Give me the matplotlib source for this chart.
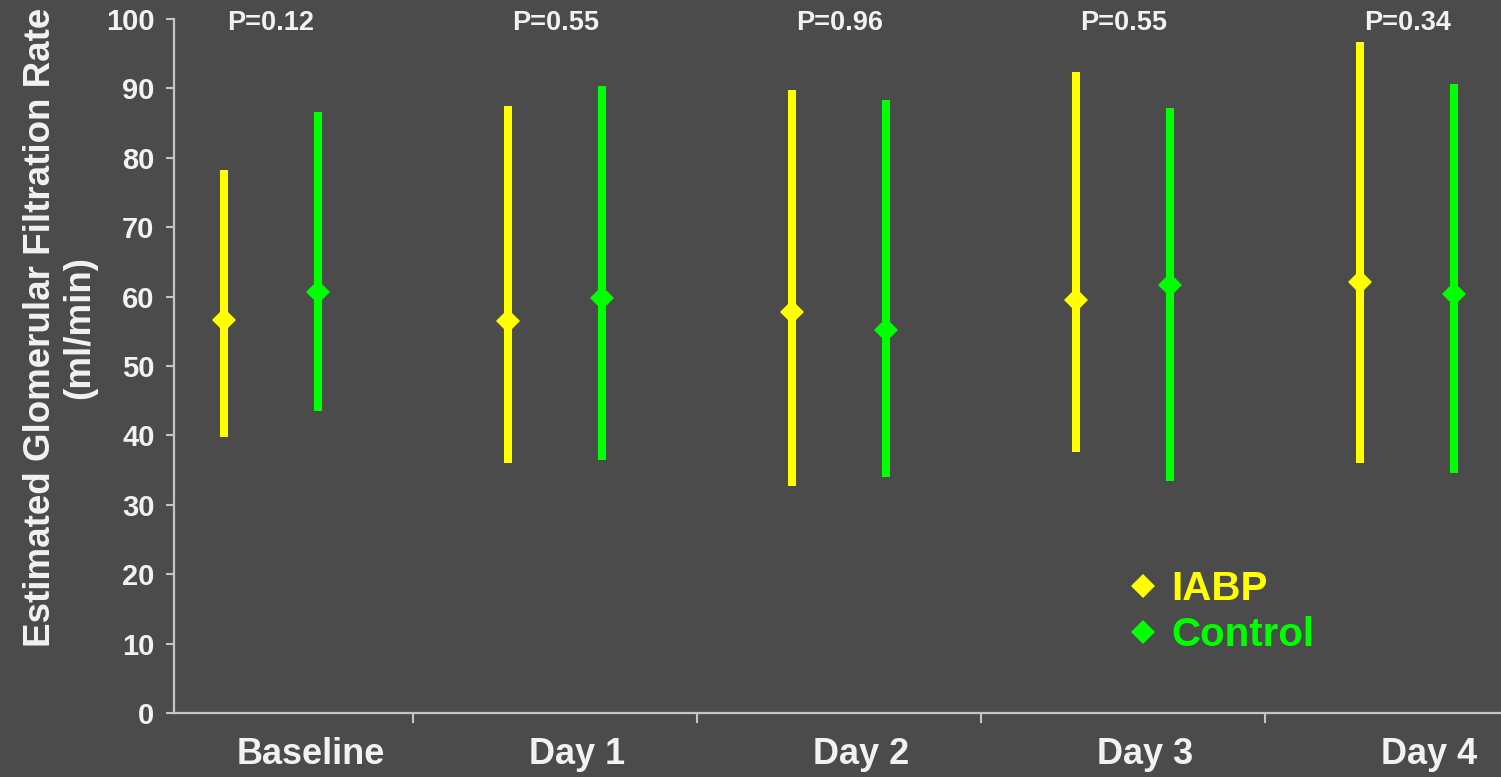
import matplotlib.pyplot as plt
import matplotlib.transforms as mtransforms
import numpy as np

plt.rcParams['font.family'] = ['Liberation Sans', 'DejaVu Sans']
plt.rcParams['font.weight'] = 'bold'

days = ['Baseline', 'Day 1', 'Day 2', 'Day 3', 'Day 4']
p_values = ['P=0.12', 'P=0.55', 'P=0.96', 'P=0.55', 'P=0.34']

iabp_mean = [56.6, 56.5, 57.8, 59.5, 62.1]
iabp_low = [39.8, 36.0, 32.7, 37.6, 36.0]
iabp_high = [78.2, 87.5, 89.8, 92.4, 96.7]

control_mean = [60.7, 59.8, 55.2, 61.7, 60.4]
control_low = [43.5, 36.5, 34.0, 33.4, 34.6]
control_high = [86.6, 90.3, 88.3, 87.2, 90.6]

bg = '#4b4b4b'
fg = '#f2f2f2'
axis_col = '#c4c4c4'
yellow = '#ffff00'
green = '#00ff00'

fig = plt.figure(figsize=(15.01, 7.77), dpi=100, facecolor=bg)
ax = fig.add_axes([0.1159, 0.0824, 0.8841, 0.8931], facecolor=bg)

x = np.arange(len(days))
off = 0.165

ax.vlines(x - off, iabp_low, iabp_high, color=yellow, lw=5.8)
ax.vlines(x + off, control_low, control_high, color=green, lw=5.8)
ax.plot(x - off, iabp_mean, 'D', color=yellow, ms=12.5, mew=0, label='IABP')
ax.plot(x + off, control_mean, 'D', color=green, ms=12.5, mew=0, label='Control')

for xi, p in zip(x, p_values):
    ax.text(xi, 99.5, p, color=fg, fontsize=19.5, fontweight='bold',
            ha='center', va='center')

ax.set_xlim(-0.342, 4.33)
ax.set_ylim(0, 100)
ax.set_yticks(np.arange(0, 101, 10))

# labels sit at the category centres, tick marks at the boundaries
ax.set_xticks(x)
ax.set_xticklabels(days, fontsize=26, fontweight='bold', color=fg)
ax.set_xticks(x[:-1] + 0.5, minor=True)
ax.tick_params(axis='x', which='major', length=0, pad=17)
ax.tick_params(axis='x', which='minor', length=7, width=1.5, color=axis_col,
               direction='out')
for i, lbl in enumerate(ax.get_xticklabels()):
    dx = 40 if i == 0 else 22
    shift = mtransforms.ScaledTranslation(dx / 100, 0, fig.dpi_scale_trans)
    lbl.set_transform(lbl.get_transform() + shift)

ax.tick_params(axis='y', length=6, width=1.5, color=axis_col, labelsize=21,
               labelcolor=fg, pad=8)
for lbl in ax.get_yticklabels():
    lbl.set_fontweight('bold')

for side in ['top', 'right']:
    ax.spines[side].set_visible(False)
for side in ['left', 'bottom']:
    ax.spines[side].set_color(axis_col)
    ax.spines[side].set_linewidth(1.6)

ax.set_ylabel('Estimated Glomerular Filtration Rate\n(ml/min)', fontsize=26.5,
              fontweight='bold', color=fg, linespacing=1.15)
ax.yaxis.set_label_coords(-0.058, 0.556)

leg = ax.legend(loc='center left', bbox_to_anchor=(0.694, 0.145), frameon=False,
                fontsize=29, labelcolor='linecolor', handlelength=0.6,
                handletextpad=0.4, labelspacing=0.2, markerscale=1.0)
for t in leg.get_texts():
    t.set_fontweight('bold')

fig.savefig('out.png', dpi=100, facecolor=bg)
